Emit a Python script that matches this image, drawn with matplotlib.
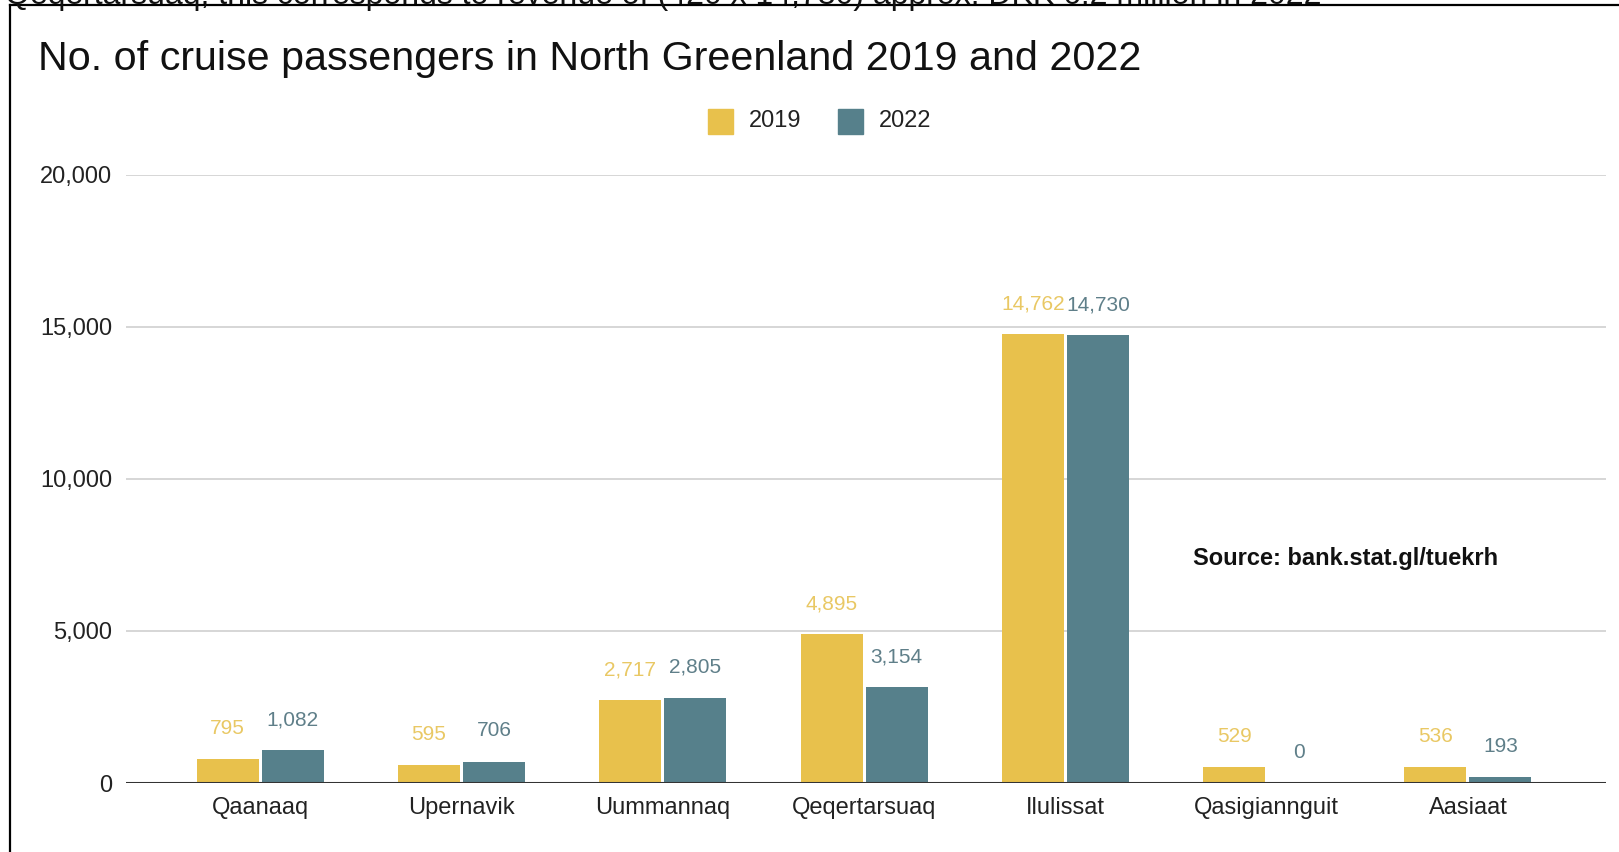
import matplotlib.pyplot as plt
import numpy as np
from matplotlib.lines import Line2D
from matplotlib.patches import Rectangle

plt.rcParams["font.family"] = ["Liberation Sans", "DejaVu Sans"]

# ---------------------------- data ---------------------------- #
towns = ["Qaanaaq", "Upernavik", "Uummannaq", "Qeqertarsuaq",
         "Ilulissat", "Qasigiannguit", "Aasiaat"]
pax_2019 = [795, 595, 2717, 4895, 14762, 529, 536]
pax_2022 = [1082, 706, 2805, 3154, 14730, 0, 193]
years = ["2019", "2022"]
yticks = [0, 5000, 10000, 15000, 20000]

col_2019 = "#e8c14c"
col_2022 = "#56808b"
lab_2019 = "#e9c864"
lab_2022 = "#5f7f89"

W, H = 1619, 852
fig = plt.figure(figsize=(W / 100, H / 100), dpi=100)
ax = fig.add_axes([126 / W, 1 - 783 / H, (1606 - 126) / W, (783 - 175) / H])

x = np.arange(len(towns))
bw = 0.308
off = (bw + 0.015) / 2

bars1 = ax.bar(x - off, pax_2019, bw, color=col_2019, zorder=3)
bars2 = ax.bar(x + off, pax_2022, bw, color=col_2022, zorder=3)

for bars, vals, c in ((bars1, pax_2019, lab_2019), (bars2, pax_2022, lab_2022)):
    for b, v in zip(bars, vals):
        ax.annotate(f"{v:,}", (b.get_x() + b.get_width() / 2, v),
                    xytext=(0, 22), textcoords="offset points",
                    ha="center", va="center", fontsize=15, color=c)

ax.set_xlim(-0.667, 6.686)
ax.set_ylim(0, 20000)
ax.set_yticks(yticks)
ax.set_yticklabels([f"{t:,}" for t in yticks])
ax.set_xticks(x)
ax.set_xticklabels(towns)
ax.tick_params(axis="y", length=0, pad=10, labelsize=17, labelcolor="#222222")
ax.tick_params(axis="x", length=0, pad=10, labelsize=17, labelcolor="#222222")
ax.grid(axis="y", color="#cccccc", linewidth=1.1, zorder=0)
for s in ax.spines.values():
    s.set_visible(False)
ax.axhline(0, color="#333333", linewidth=2.2, zorder=4)

# title, legend, source note
fig.text(38 / W, 1 - 59 / H, "No. of cruise passengers in North Greenland 2019 and 2022",
         fontsize=29.7, color="#111111", va="center", ha="left")

for (sx, tx), name, c in zip(((708, 749), (838, 879)), years, (col_2019, col_2022)):
    fig.add_artist(Rectangle((sx / W, 1 - 134 / H), 25 / W, 25 / H,
                             transform=fig.transFigure, color=c))
    fig.text(tx / W, 1 - 121 / H, name, fontsize=17, color="#222222",
             va="center", ha="left")

fig.text(1193 / W, 1 - 558 / H, "Source: bank.stat.gl/tuekrh",
         fontsize=17, fontweight="bold", color="#111111", va="center", ha="left")

# surrounding frame and the line of text cut off above it
fig.text(5 / W, 1 - 4 / H,
         "Qeqertarsuaq, this corresponds to revenue of (420 x 14,730) approx. DKK 6.2 million in 2022",
         fontsize=23, color="#111111", va="baseline", ha="left")
fig.add_artist(Line2D([10 / W, 10 / W], [0, 1 - 5 / H], transform=fig.transFigure,
                      color="black", linewidth=1.6))
fig.add_artist(Line2D([10 / W, 1], [1 - 5 / H, 1 - 5 / H], transform=fig.transFigure,
                      color="black", linewidth=1.6))

fig.savefig("out.png", dpi=100)
